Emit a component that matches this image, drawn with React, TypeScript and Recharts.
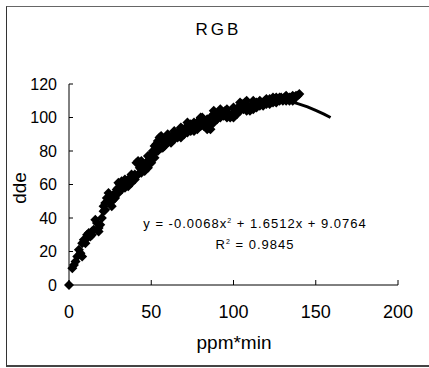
import React from "react";
import { ScatterChart, Scatter, XAxis, YAxis } from "recharts";

const xTicks = [0, 50, 100, 150, 200];
const yTicks = [0, 20, 40, 60, 80, 100, 120];

// main run of measured points
const dataX = [
  0, 2, 3, 4, 5, 6, 7, 8, 8, 9, 10, 11, 12, 13, 14, 15, 16, 17, 18, 19, 20, 21, 21, 22, 23, 24, 25, 26, 27, 28,
  29, 30, 31, 32, 33, 34, 35, 36, 37, 38, 39, 40, 41, 42, 43, 44, 45, 46, 47, 48, 49, 50, 51, 52, 53, 54, 55, 56,
  57, 58, 59, 60, 61, 62, 63, 64, 65, 66, 67, 68, 69, 70, 71, 72, 73, 74, 75, 76, 77, 78, 79, 80, 81, 82, 83, 84,
  85, 86, 87, 88, 89, 90, 91, 92, 93, 94, 95, 96, 97, 98, 99, 100, 101, 102, 103, 104, 105, 106, 107, 108, 109,
  110, 111, 112, 113, 114, 115, 116, 117, 118, 119, 120, 121, 122, 123, 124, 125, 126, 127, 128, 129, 130, 131,
  132, 133, 134, 135, 136, 137, 138, 139, 140,
];
const dataY = [
  0, 10, 12, 14, 17, 21, 19, 17, 25, 27, 27, 30, 31, 29, 32, 33, 39, 37, 34, 36, 40, 44, 47, 49, 52, 55, 53, 50, 51, 55,
  57, 58, 60, 62, 61, 60, 62, 63, 62, 64, 65, 66, 73, 74, 70, 69, 72, 71, 73, 74, 76, 78, 80, 79, 84, 86, 88, 87,
  82, 85, 86, 88, 89, 87, 88, 90, 89, 91, 92, 90, 93, 92, 94, 95, 93, 96, 95, 94, 96, 97, 98, 99, 100, 98, 97, 95,
  94, 96, 101, 102, 101, 102, 103, 104, 102, 103, 104, 103, 102, 101, 101, 102, 104, 105, 106, 107, 108, 108, 109, 107, 106,
  105, 107, 108, 108, 109, 108, 109, 108, 109, 110, 110, 109, 111, 110, 111, 111, 112, 111, 111, 112, 111, 112,
  112, 111, 112, 112, 111, 112, 113, 113, 114,
];

// lower edge of the point band
const lowX = [
  10, 14, 18, 22, 24, 26, 28, 30, 32, 34, 36, 38, 40, 42, 44, 46, 48, 50, 52, 54, 56, 58, 60, 62, 64, 66, 68, 70,
  72, 74, 76, 78, 80, 82, 84, 86, 88, 90, 92, 94, 96, 98, 100, 102, 104, 106, 108, 110, 112, 114, 116, 118, 120,
  122, 124, 126, 128, 130, 132, 134, 136,
];
const lowY = [
  25, 30, 32, 45, 50, 47, 52, 55, 57, 58, 59, 61, 63, 66, 67, 68, 70, 73, 76, 80, 82, 83, 85, 85, 87, 88, 88, 90,
  91, 92, 92, 93, 95, 95, 93, 93, 97, 99, 100, 101, 100, 100, 100, 102, 104, 105, 104, 104, 105, 106, 107, 107, 108,
  108, 109, 109, 110, 110, 110, 110, 110,
];

// upper edge of the point band
const highX = [30, 34, 38, 44, 48, 52, 56, 60, 64, 68, 72, 76, 80, 84, 88, 92, 96, 100, 104, 108, 112, 116, 120, 124, 128, 132, 136];
const highY = [61, 63, 66, 74, 77, 83, 89, 90, 92, 94, 97, 97, 100, 99, 104, 105, 105, 106, 109, 110, 110, 110, 111, 112, 112, 113, 113];

// visible tail of the trendline
const trendX = [128, 135, 140, 145, 150, 155, 159];
const trendY = [111, 109.5, 108, 106.3, 104.2, 102, 100];

const points = [
  ...dataX.map((x, i) => ({ x, y: dataY[i] })),
  ...lowX.map((x, i) => ({ x, y: lowY[i] })),
  ...highX.map((x, i) => ({ x, y: highY[i] })),
];
const trend = trendX.map((x, i) => ({ x, y: trendY[i] }));

const font = "'Liberation Sans', Arial, sans-serif";

function Diamond(props: any) {
  const { cx, cy } = props;
  const r = 5;
  return (
    <polygon
      points={`${cx},${cy - r} ${cx + r},${cy} ${cx},${cy + r} ${cx - r},${cy}`}
      fill="#000"
    />
  );
}

export default function App() {
  return (
    <div style={{ position: "absolute", left: 0, top: 0, width: 429, height: 368, background: "#fff", fontFamily: font }}>
      <div
        style={{
          position: "absolute",
          left: 6,
          top: 6,
          width: 430,
          height: 358,
          borderLeft: "1px solid #333",
          borderTop: "1px solid #666",
          borderBottom: "2px solid #444",
        }}
      />
      <ScatterChart width={429} height={368} margin={{ top: 84, right: 31, bottom: 43, left: 0 }}>
        <XAxis
          type="number"
          dataKey="x"
          domain={[0, 200]}
          ticks={xTicks}
          tickSize={-5}
          tickMargin={25}
          height={40}
          stroke="#000"
          tick={{ fill: "#000", fontSize: 18, fontFamily: font }}
        />
        <YAxis
          type="number"
          dataKey="y"
          domain={[0, 120]}
          ticks={yTicks}
          tickSize={-4}
          tickMargin={16}
          width={69}
          stroke="#000"
          tick={{ fill: "#000", fontSize: 16, fontFamily: font }}
        />
        <Scatter
          data={trend}
          line={{ stroke: "#000", strokeWidth: 3 }}
          lineType="joint"
          shape={() => <g />}
          isAnimationActive={false}
        />
        <Scatter data={points} shape={Diamond} isAnimationActive={false} />
      </ScatterChart>
      <div style={{ position: "absolute", left: 0, width: 437, top: 20, textAlign: "center", fontSize: 17, letterSpacing: 3 }}>
        RGB
      </div>
      <div style={{ position: "absolute", left: 0, width: 468, top: 332, textAlign: "center", fontSize: 19 }}>
        ppm*min
      </div>
      <div
        style={{
          position: "absolute",
          left: 20,
          top: 188,
          fontSize: 19,
          transform: "translate(-50%, -50%) rotate(-90deg)",
          whiteSpace: "nowrap",
        }}
      >
        dde
      </div>
      <div
        style={{
          position: "absolute",
          left: 0,
          width: 510,
          top: 216,
          textAlign: "center",
          fontSize: 13,
          letterSpacing: 1,
          whiteSpace: "nowrap",
        }}
      >
        y = -0.0068x<sup style={{ fontSize: 7 }}>2</sup> + 1.6512x + 9.0764
      </div>
      <div
        style={{
          position: "absolute",
          left: 0,
          width: 510,
          top: 237,
          textAlign: "center",
          fontSize: 13,
          letterSpacing: 1,
          whiteSpace: "nowrap",
        }}
      >
        R<sup style={{ fontSize: 7 }}>2</sup> = 0.9845
      </div>
    </div>
  );
}
